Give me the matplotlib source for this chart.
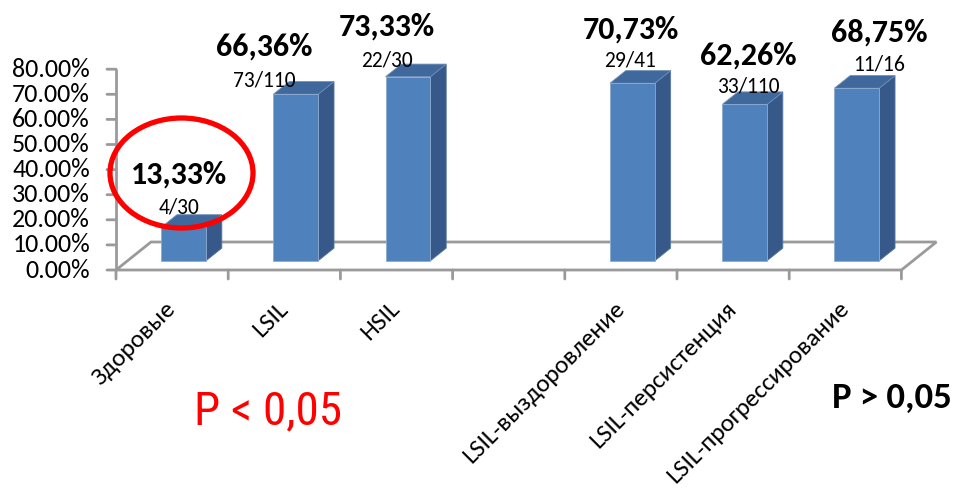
import matplotlib
matplotlib.use("Agg")
import matplotlib.pyplot as plt
from matplotlib.patches import Polygon, Ellipse
import numpy as np

# --- data -------------------------------------------------------------
categories = ["Здоровые", "LSIL", "HSIL", "",
              "LSIL-выздоровление", "LSIL-персистенция", "LSIL-прогрессирование"]
values = [13.33, 66.36, 73.33, np.nan, 70.73, 62.26, 68.75]
counts = ["4/30", "73/110", "22/30", "", "29/41", "33/110", "11/16"]
y_ticks = [0, 10, 20, 30, 40, 50, 60, 70, 80]

# --- label placement (pixel offsets from the top-front edge of each bar) --
label_dx = [-5, -32, -21, 0, -2, 4, 22]
count_dy = [20, 14, 16, 0, 23, 18, 24]
pct_gap = [33, 34, 34, 0, 31, 31, 32]

FONT = ["Carlito", "Lato", "DejaVu Sans"]
NARROW = ["Liberation Sans Narrow", "Roboto Condensed", "Archivo Narrow", "DejaVu Sans"]
plt.rcParams["font.family"] = FONT

W, H = 955, 488
fig = plt.figure(figsize=(W / 100, H / 100), dpi=100)
ax = fig.add_axes([0, 0, 1, 1])

# pixel geometry of the plot frame
x_left_px = 116.0     # left edge of first category slot
slot_px = 112.2       # width of one category slot
y_zero_px = 270.0     # 0 % line
px_per_pct = 2.51     # vertical scale

ax.set_xlim(-0.5 - x_left_px / slot_px, -0.5 + (W - x_left_px) / slot_px)
ax.set_ylim((y_zero_px - H) / px_per_pct, y_zero_px / px_per_pct)
ax.axis("off")

# oblique depth of the floor
depth_dx = 35 / slot_px
depth_dy = 28 / px_per_pct
n = len(categories)
grey = "#9a9a9a"

# floor
floor = Polygon([(-0.5, 0), (n - 0.5, 0),
                 (n - 0.5 + depth_dx, depth_dy), (-0.5 + depth_dx, depth_dy)],
                closed=True, facecolor="white", edgecolor=grey, lw=2, zorder=1)
ax.add_patch(floor)

# value axis
ax.plot([-0.5, -0.5], [0, max(y_ticks)], color=grey, lw=2, zorder=2,
        solid_capstyle="butt")
for t in y_ticks:
    ax.annotate("", xy=(-0.5, t), xytext=(-9, 0), textcoords="offset pixels",
                arrowprops=dict(arrowstyle="-", color=grey, lw=2,
                                shrinkA=0, shrinkB=0))
    ax.annotate(f"{t:.2f}%", xy=(-0.5, t), xytext=(-26, 0),
                textcoords="offset pixels", ha="right", va="center",
                fontsize=18.7, color="black")

# category ticks
for b in np.arange(n + 1) - 0.5:
    ax.annotate("", xy=(b, 0), xytext=(0, -9), textcoords="offset pixels",
                arrowprops=dict(arrowstyle="-", color=grey, lw=2,
                                shrinkA=0, shrinkB=0))

# category labels
for i, c in enumerate(categories):
    if not c:
        continue
    ax.annotate(c, xy=(i, 0), xytext=(0, -35), textcoords="offset pixels",
                rotation=45, rotation_mode="anchor", ha="right", va="center",
                fontsize=18.3, color="black")

# 3D bars
bar_w = 0.40
front_f = 0.33
bar_depth = 0.45
fx, fy = front_f * depth_dx, front_f * depth_dy
bdx, bdy = bar_depth * depth_dx, bar_depth * depth_dy
x = np.arange(n)
front_c, side_c, top_c = "#4F81BD", "#36598A", "#3F699C"
vals = np.array(values, dtype=float)
ok = ~np.isnan(vals)
ax.bar(x[ok] + fx, vals[ok], width=bar_w, bottom=fy, color=front_c,
       edgecolor="#8FAAD0", linewidth=0.6, zorder=5)
for xi, v in zip(x[ok], vals[ok]):
    xl = xi + fx - bar_w / 2
    xr = xi + fx + bar_w / 2
    top = fy + v
    side = Polygon([(xr, fy), (xr + bdx, fy + bdy), (xr + bdx, top + bdy), (xr, top)],
                   closed=True, facecolor=side_c, edgecolor="#5C7BA3", lw=0.6, zorder=4)
    cap = Polygon([(xl, top), (xr, top), (xr + bdx, top + bdy), (xl + bdx, top + bdy)],
                  closed=True, facecolor=top_c, edgecolor="#6F8DB5", lw=0.6, zorder=4)
    ax.add_patch(side)
    ax.add_patch(cap)

# value labels
for i, (v, cnt) in enumerate(zip(values, counts)):
    if np.isnan(v):
        continue
    anchor = (i + fx, fy + v)
    ax.annotate(cnt, xy=anchor, xytext=(label_dx[i], count_dy[i]),
                textcoords="offset pixels", ha="center", va="center",
                fontsize=15.5, color="black", zorder=6)
    pct = f"{v:.2f}%".replace(".", ",")
    ax.annotate(pct, xy=anchor, xytext=(label_dx[i], count_dy[i] + pct_gap[i]),
                textcoords="offset pixels", ha="center", va="center",
                fontsize=23, fontweight="bold", color="black", zorder=6)

# highlight around the healthy group
ell_cx = -0.5 + (181.5 - x_left_px) / slot_px
ell_cy = (y_zero_px - 173) / px_per_pct
ax.add_patch(Ellipse((ell_cx, ell_cy), 143 / slot_px, 110 / px_per_pct,
                     facecolor="none", edgecolor="#FF0000", lw=3.8, zorder=7))

# significance notes
fig.text(268 / W, 1 - 411 / H, "P < 0,05", color="#FF0000",
         family=NARROW, fontsize=34, ha="center", va="center")
fig.text(892 / W, 1 - 398 / H, "P > 0,05", color="black",
         fontsize=26.5, fontweight="bold", ha="center", va="center")

fig.savefig("out.png", dpi=100)
